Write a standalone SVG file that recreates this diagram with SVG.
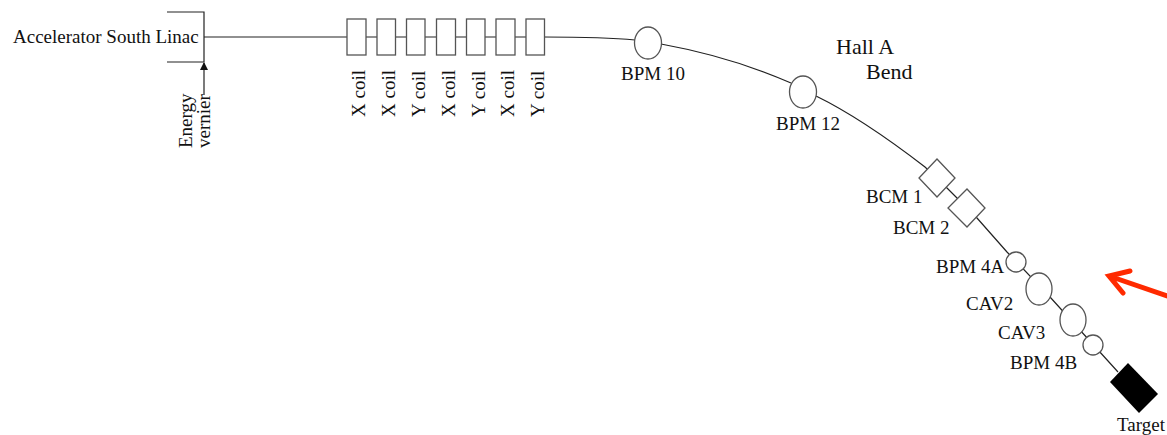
<svg xmlns="http://www.w3.org/2000/svg" width="1167" height="435" viewBox="0 0 1167 435">
<style>
text{font-family:"Liberation Serif","Times New Roman",serif;font-size:19px;fill:#111}
.h{font-size:22px}
.s{fill:#fff;stroke:#555;stroke-width:1.3}
.l{fill:none;stroke:#222;stroke-width:1.2}
</style>
<defs>
<marker id="tip" markerUnits="userSpaceOnUse" markerWidth="8" markerHeight="11" refX="7" refY="4" orient="auto"><path d="M0 0L8 4L0 8Z" fill="#111"/></marker>
</defs>
<rect width="1167" height="435" fill="#fff"/>
<g id="connectors">
<path class="l" d="M204 37H347M366 37H377M395 37H407M425 37H437M455 37H467M485 37H496M515 37H526"/>
<path class="l" d="M544 37C575 37 605 37 635 40M661 44C705 52 750 65 791 83M816 96C855 115 890 140 925 167L947 188L977 218L1007 252L1050 297L1118 372"/>
<path class="l" d="M204 95V63" marker-end="url(#tip)"/>
</g>
<g id="linac"><path class="l" d="M167 12H204V62H167"/><text x="13" y="43">Accelerator South Linac</text></g>
<g id="energy-vernier"><text transform="translate(192 148) rotate(-90)">Energy</text><text transform="translate(210 148) rotate(-90)">vernier</text></g>
<g id="coil1"><rect class="s" x="347" y="19" width="19" height="36"/><text transform="translate(365 117) rotate(-90)">X coil</text></g>
<g id="coil2"><rect class="s" x="377" y="19" width="18.500" height="36"/><text transform="translate(395 117) rotate(-90)">X coil</text></g>
<g id="coil3"><rect class="s" x="406.500" y="19" width="18.500" height="36"/><text transform="translate(425 117) rotate(-90)">Y coil</text></g>
<g id="coil4"><rect class="s" x="436.500" y="19" width="19" height="36"/><text transform="translate(455 117) rotate(-90)">X coil</text></g>
<g id="coil5"><rect class="s" x="466.500" y="19" width="18.500" height="36"/><text transform="translate(485 117) rotate(-90)">Y coil</text></g>
<g id="coil6"><rect class="s" x="496" y="19" width="19" height="36"/><text transform="translate(514 117) rotate(-90)">X coil</text></g>
<g id="coil7"><rect class="s" x="526" y="19" width="18.500" height="36"/><text transform="translate(544 117) rotate(-90)">Y coil</text></g>
<g id="bpm10"><ellipse class="s" cx="648" cy="43" rx="13.500" ry="16"/><text x="621" y="80">BPM 10</text></g>
<g id="bpm12"><ellipse class="s" cx="803" cy="92" rx="13.500" ry="16"/><text x="776" y="130">BPM 12</text></g>
<g id="hall-a"><text class="h" x="836" y="54">Hall A</text><text class="h" x="866" y="79">Bend</text></g>
<g id="bcm1"><path class="s" d="M937 159L955 178L937 197L919 178Z"/><text x="866" y="203">BCM 1</text></g>
<g id="bcm2"><path class="s" d="M967 189L985 208L967 227L948 208Z"/><text x="893" y="234">BCM 2</text></g>
<g id="bpm4a"><ellipse class="s" cx="1016" cy="262" rx="10" ry="10"/><text x="936" y="273">BPM 4A</text></g>
<g id="cav2"><ellipse class="s" cx="1039" cy="289" rx="13" ry="16"/><text x="966" y="310">CAV2</text></g>
<g id="cav3"><ellipse class="s" cx="1073" cy="320" rx="13" ry="16"/><text x="998" y="339">CAV3</text></g>
<g id="bpm4b"><ellipse class="s" cx="1093" cy="345" rx="10" ry="10"/><text x="1010" y="369">BPM 4B</text></g>
<g id="target"><path d="M1128 363L1158 394L1139 413L1110 382Z" fill="#000"/><text x="1117" y="431">Target</text></g>
<g id="red-arrow"><path d="M1167 296L1109 276M1130 271L1109 276L1123 293" fill="none" stroke="#ff2a00" stroke-width="5" stroke-linecap="round" stroke-linejoin="miter"/></g>
</svg>
